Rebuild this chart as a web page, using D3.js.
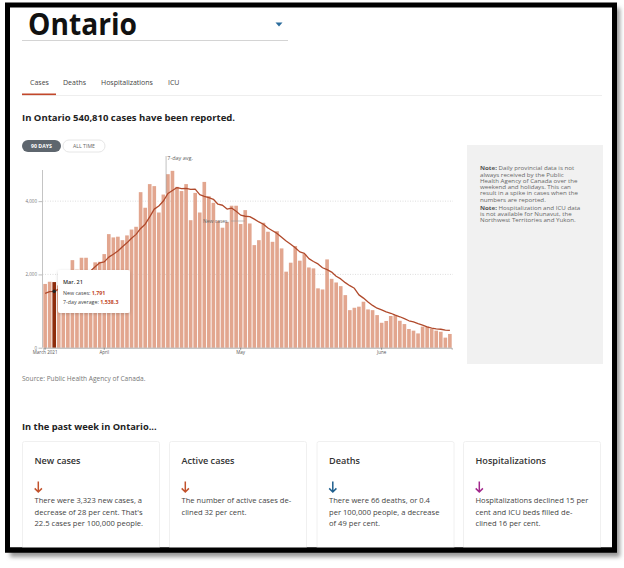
<!DOCTYPE html>
<html>
<head>
<meta charset="utf-8">
<script src="https://cdn.jsdelivr.net/npm/d3@7"></script>
<style>
  body { margin: 0; background: #fff; }
  svg text { font-family: "Open Sans", sans-serif; }
</style>
</head>
<body>
<svg id="page" width="624" height="568"></svg>
<script>
// daily new cases, Mar 19 to Jun 16 2021
const newCases = [
  1740, 1800, 1791, 1700, 1550, 1570, 2390, 2130, 2455, 2455,
  2060, 2330, 2345, 2555, 3100, 3010, 3030, 2935, 3065, 3225,
  3300, 4245, 3820, 4465, 4410, 3690, 4180, 4736, 4827, 4390,
  4275, 4465, 3480, 4225, 3690, 4525, 4135, 3955, 3465, 3275,
  3435, 3875, 3875, 3375, 3755, 3390, 2800, 2935, 3410, 3165,
  2890, 3180, 2710, 2075, 2320, 2775, 2375, 2555, 2190, 2165,
  1620, 1590, 2410, 1880, 1780, 1680, 1435, 1025, 1090, 1120,
  1255, 1045, 1025, 890, 680, 730, 865, 890, 735, 645,
  510, 465, 390, 575, 575, 510, 465, 435, 275, 375
];
// 7-day average line
const avg7 = [
  1480.4, 1532.0, 1538.3, 1599.9, 1667.3, 1676.3, 1794.4, 1855.0, 1944.1, 2038.0,
  2094.4, 2207.3, 2316.1, 2341.4, 2472.9, 2552.3, 2637.0, 2757.6, 2861.7, 2987.7,
  3093.1, 3255.7, 3370.6, 3572.7, 3781.7, 3868.1, 4002.6, 4208.4, 4292.0, 4370.4,
  4341.0, 4347.6, 4318.9, 4326.9, 4176.3, 4132.4, 4094.1, 4050.9, 3917.0, 3887.9,
  3783.3, 3810.3, 3722.0, 3618.4, 3587.7, 3577.1, 3509.4, 3432.4, 3368.6, 3265.6,
  3193.4, 3119.7, 3016.9, 2914.3, 2825.6, 2730.6, 2615.7, 2575.7, 2430.4, 2352.4,
  2287.1, 2182.6, 2131.3, 2063.9, 1951.0, 1878.4, 1775.0, 1692.6, 1622.1, 1441.4,
  1353.3, 1248.0, 1154.0, 1078.3, 1029.7, 978.0, 940.1, 888.9, 844.1, 791.3,
  735.4, 702.6, 656.6, 616.6, 568.0, 533.4, 514.4, 503.3, 478.6, 474.7
];
const dates = d3.timeDay.range(new Date(2021, 2, 19), new Date(2021, 5, 17));
const tickDates = [new Date(2021, 2, 19), new Date(2021, 3, 1), new Date(2021, 4, 1), new Date(2021, 5, 1)];
const tickLabels = ["March 2021", "April", "May", "June"];
const yTicks = [0, 2000, 4000];
const highlight = 2; // Mar. 21
const totalCases = 540810;

const tabs = ["Cases", "Deaths", "Hospitalizations", "ICU"];
const tabX = [30, 63, 101, 168];

const note1 = ["Daily provincial data is not", "always received by the Public", "Health Agency of Canada over the",
  "weekend and holidays. This can", "result in a spike in cases when the", "numbers are reported."];
const note2 = ["Hospitalization and ICU data", "is not available for Nunavut, the", "Northwest Territories and Yukon."];

const cardTitles = ["New cases", "Active cases", "Deaths", "Hospitalizations"];
const cardTexts = [
  ["There were 3,323 new cases, a", "decrease of 28 per cent. That's", "22.5 cases per 100,000 people."],
  ["The number of active cases de-", "clined 32 per cent."],
  ["There were 66 deaths, or 0.4", "per 100,000 people, a decrease", "of 49 per cent."],
  ["Hospitalizations declined 15 per", "cent and ICU beds filled de-", "clined 16 per cent."]
];
const arrowColors = ["#c2522c", "#c2522c", "#1f5f8e", "#a2288c"];

const svg = d3.select("#page");
const defs = svg.append("defs");
const blur = defs.append("filter").attr("id", "blur").attr("x", "-10%").attr("y", "-10%").attr("width", "120%").attr("height", "120%");
blur.append("feGaussianBlur").attr("stdDeviation", 2);
const shadow = defs.append("filter").attr("id", "shadow").attr("x", "-20%").attr("y", "-20%").attr("width", "140%").attr("height", "140%");
shadow.append("feDropShadow").attr("dx", 0).attr("dy", 1).attr("stdDeviation", 1.5).attr("flood-color", "#000").attr("flood-opacity", 0.18);

// frame
svg.append("rect").attr("x", 10).attr("y", 8).attr("width", 610).attr("height", 549).attr("fill", "#999").attr("filter", "url(#blur)");
svg.append("rect").attr("x", 7.5).attr("y", 5).attr("width", 607).attr("height", 545)
  .attr("fill", "#fff").attr("stroke", "#000").attr("stroke-width", 5);

// header
svg.append("text").attr("x", 28).attr("y", 35).attr("font-size", 31).attr("font-weight", 700).attr("fill", "#111")
  .attr("textLength", 109).attr("lengthAdjust", "spacingAndGlyphs").text("Ontario");
svg.append("line").attr("x1", 22).attr("x2", 288).attr("y1", 40.5).attr("y2", 40.5).attr("stroke", "#d4d4d4");
svg.append("path").attr("d", "M275.5,22.5L282.5,22.5L279,26.5Z").attr("fill", "#2b6c9c");

svg.selectAll(".tab").data(tabs).enter().append("text")
  .attr("x", (d, i) => tabX[i]).attr("y", 84.5)
  .attr("font-size", 7).attr("fill", "#444").text(d => d);
svg.append("line").attr("x1", 22).attr("x2", 602).attr("y1", 95.5).attr("y2", 95.5).attr("stroke", "#eee");
svg.append("rect").attr("x", 22).attr("y", 93.5).attr("width", 34).attr("height", 1.6).attr("fill", "#c2472a");

svg.append("text").attr("x", 22).attr("y", 121).attr("font-size", 9.5).attr("font-weight", 700).attr("fill", "#222")
  .text(`In Ontario ${d3.format(",")(totalCases)} cases have been reported.`);

// range buttons
svg.append("rect").attr("x", 22).attr("y", 140).attr("width", 39).attr("height", 12).attr("rx", 6).attr("fill", "#5e666e");
svg.append("text").attr("x", 41.5).attr("y", 148).attr("text-anchor", "middle").attr("font-size", 5.2)
  .attr("font-weight", 700).attr("fill", "#fff").text("90 DAYS");
svg.append("rect").attr("x", 63).attr("y", 140).attr("width", 42).attr("height", 12).attr("rx", 6)
  .attr("fill", "#fff").attr("stroke", "#e6e6e6");
svg.append("text").attr("x", 84).attr("y", 148).attr("text-anchor", "middle").attr("font-size", 5.2)
  .attr("fill", "#666").text("ALL TIME");

// chart
const x = d3.scaleBand().domain(dates).range([43.3, 451.7]).paddingInner(0.2);
const y = d3.scaleLinear().domain([0, 4850]).range([347.7, 170]);
const bw = x.bandwidth();

svg.append("g").selectAll("line").data(yTicks.filter(d => d > 0)).enter().append("line")
  .attr("x1", 42.5).attr("x2", 453).attr("y1", d => y(d)).attr("y2", d => y(d))
  .attr("stroke", "#c8c8c8").attr("stroke-width", 0.6).attr("stroke-dasharray", "1,1.5");

const yAxis = svg.append("g").attr("transform", "translate(42.5,0)")
  .call(d3.axisLeft(y).tickValues(yTicks).tickSize(4).tickPadding(1.5).tickFormat(d3.format(",")));
yAxis.select(".domain").attr("stroke", "#c4c4c4").attr("d", `M0,${y(0)}V${y(4850)}`);
yAxis.selectAll(".tick line").attr("stroke", "#bbb");
yAxis.selectAll(".tick text").attr("font-size", 4.5).attr("fill", "#777").attr("font-family", "Open Sans");

svg.append("g").selectAll("rect").data(newCases).enter().append("rect")
  .attr("x", (d, i) => x(dates[i])).attr("y", d => y(d))
  .attr("width", bw).attr("height", d => y(0) - y(d))
  .attr("fill", (d, i) => i === highlight ? "#8e2c0c" : "#e2a68f");

const line = d3.line().x((d, i) => x(dates[i]) + bw / 2).y(d => y(d));
svg.append("path").datum(avg7).attr("d", line).attr("fill", "none")
  .attr("stroke", "#b04a2c").attr("stroke-width", 1.3).attr("stroke-linejoin", "round");

const xAxis = svg.append("g").attr("transform", `translate(0,${y(0)})`)
  .call(d3.axisBottom(x).tickValues(tickDates).tickSize(2).tickPadding(1.5).tickFormat((d, i) => tickLabels[i]));
xAxis.select(".domain").attr("stroke", "#888").attr("stroke-width", 0.7);
xAxis.selectAll(".tick line").attr("stroke", "#888");
xAxis.selectAll(".tick text").attr("font-size", 4.5).attr("fill", "#555").attr("font-family", "Open Sans");

// annotations
const ax = x(dates[27]);
svg.append("line").attr("x1", ax).attr("x2", ax).attr("y1", 156).attr("y2", y(avg7[27])).attr("stroke", "#999").attr("stroke-width", 0.6);
svg.append("text").attr("x", ax + 1.2).attr("y", 160).attr("font-size", 5.5).attr("fill", "#666").text("7-day avg.");
svg.append("text").attr("x", 203).attr("y", 222.8).attr("font-size", 5).attr("fill", "#666").text("New cases");
svg.append("line").attr("x1", 231).attr("x2", 245).attr("y1", 221).attr("y2", 221).attr("stroke", "#999").attr("stroke-width", 0.6);

// tooltip for Mar. 21
svg.append("circle").attr("cx", x(dates[highlight]) + bw / 2).attr("cy", y(avg7[highlight])).attr("r", 1.8).attr("fill", "#222");
svg.append("rect").attr("x", 58).attr("y", 270).attr("width", 72).attr("height", 43).attr("rx", 2)
  .attr("fill", "#fff").attr("filter", "url(#shadow)");
svg.append("text").attr("x", 63).attr("y", 284).attr("font-size", 5.5).attr("font-weight", 600).attr("fill", "#333").text("Mar. 21");
const t1 = svg.append("text").attr("x", 63).attr("y", 294.5).attr("font-size", 5.3).attr("fill", "#444");
t1.append("tspan").text("New cases: ");
t1.append("tspan").attr("fill", "#c2472a").attr("font-weight", 700).text(d3.format(",")(newCases[highlight]));
const t2 = svg.append("text").attr("x", 63).attr("y", 303.5).attr("font-size", 5.3).attr("fill", "#444");
t2.append("tspan").text("7-day average: ");
t2.append("tspan").attr("fill", "#c2472a").attr("font-weight", 700).text(d3.format(",.1f")(avg7[highlight]));

// note box (text widened a little to match the screenshot's proportions)
svg.append("rect").attr("x", 467).attr("y", 145).attr("width", 136).attr("height", 219).attr("fill", "#f1f1f1");
const noteG = svg.append("g").attr("transform", "translate(480,0) scale(1.17,1)");
function noteBlock(lines, y0) {
  lines.forEach((l, i) => {
    const t = noteG.append("text").attr("x", 0).attr("y", y0 + i * 6.25).attr("font-size", 5.3).attr("fill", "#666");
    if (i === 0) t.append("tspan").attr("font-weight", 700).attr("fill", "#555").text("Note: ");
    t.append("tspan").text(l);
  });
}
noteBlock(note1, 170.3);
noteBlock(note2, 209.8);

svg.append("text").attr("x", 22).attr("y", 381).attr("font-size", 6.6).attr("fill", "#777").text("Source: Public Health Agency of Canada.");

// past week cards
svg.append("text").attr("x", 22).attr("y", 430).attr("font-size", 9.3).attr("font-weight", 700).attr("fill", "#222").text("In the past week in Ontario...");
const cardX = [22.5, 169.5, 317, 463.5];
const cards = svg.selectAll(".card").data(cardTitles).enter().append("g")
  .attr("transform", (d, i) => `translate(${cardX[i]},441.5)`);
cards.append("rect").attr("width", 137).attr("height", 110).attr("rx", 2)
  .attr("fill", "#fff").attr("stroke", "#ececec").attr("stroke-width", 0.8);
cards.append("text").attr("x", 12).attr("y", 22.5).attr("font-size", 9.1).attr("font-weight", 600).attr("fill", "#333").text(d => d);
cards.append("path").attr("d", "M15.8,40V50.5M12.2,46.9L15.8,50.5L19.4,46.9").attr("fill", "none")
  .attr("stroke", (d, i) => arrowColors[i]).attr("stroke-width", 1.5);
cards.each(function (d, i) {
  d3.select(this).selectAll(".line").data(cardTexts[i]).enter().append("text")
    .attr("x", 12).attr("y", (l, j) => 61.5 + j * 11.6)
    .attr("font-size", 7.6).attr("fill", "#444").text(l => l);
});
// frame bottom edge redrawn over the cards
svg.append("rect").attr("x", 5).attr("y", 547.5).attr("width", 612).attr("height", 5).attr("fill", "#000");
</script>
</body>
</html>
